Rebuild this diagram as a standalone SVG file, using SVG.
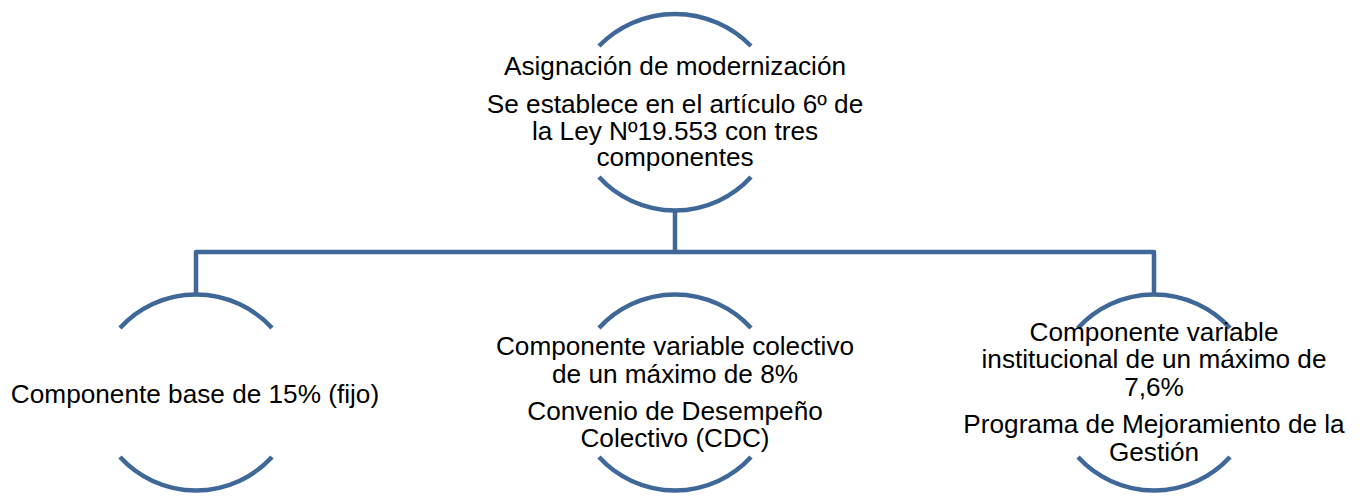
<svg xmlns="http://www.w3.org/2000/svg" width="1367" height="496" viewBox="0 0 1367 496">
<style>
.arc{fill:none;stroke:#3F6899;stroke-width:4.5;stroke-linecap:butt}
.con{fill:none;stroke:#3F6899;stroke-width:4.5;stroke-linejoin:round}
text{font-family:"Liberation Sans",Arial,sans-serif;font-size:26.2px;fill:#000;text-anchor:middle}
</style>
<rect width="1367" height="496" fill="#fff"/>
<g id="connectors">
<path class="con" d="M675,211 V252 M196,293 V252 H1154 V293"/>
</g>
<g id="node-top">
<path class="arc" d="M599,46 A106,106 0 0 1 751,46"/>
<path class="arc" d="M599,177 A103,103 0 0 0 751,177"/>
<text x="675" y="75">Asignación de modernización</text>
<text x="675" y="113">Se establece en el artículo 6º de</text>
<text x="675" y="140">la Ley Nº19.553 con tres</text>
<text x="675" y="166">componentes</text>
</g>
<g id="node-left">
<path class="arc" d="M120,328 A103,103 0 0 1 272,328"/>
<path class="arc" d="M120,457 A103,103 0 0 0 272,457"/>
<text x="195" y="403">Componente base de 15% (fijo)</text>
</g>
<g id="node-middle">
<path class="arc" d="M599,328 A103,103 0 0 1 751,328"/>
<path class="arc" d="M599,457 A103,103 0 0 0 751,457"/>
<text x="675" y="355">Componente variable colectivo</text>
<text x="675" y="383">de un máximo de 8%</text>
<text x="675" y="420">Convenio de Desempeño</text>
<text x="675" y="447">Colectivo (CDC)</text>
</g>
<g id="node-right">
<path class="arc" d="M1078,328 A103,103 0 0 1 1230,328"/>
<path class="arc" d="M1078,457 A103,103 0 0 0 1230,457"/>
<text x="1154" y="341">Componente variable</text>
<text x="1154" y="368">institucional de un máximo de</text>
<text x="1154" y="396">7,6%</text>
<text x="1154" y="433">Programa de Mejoramiento de la</text>
<text x="1154" y="461">Gestión</text>
</g>
</svg>
